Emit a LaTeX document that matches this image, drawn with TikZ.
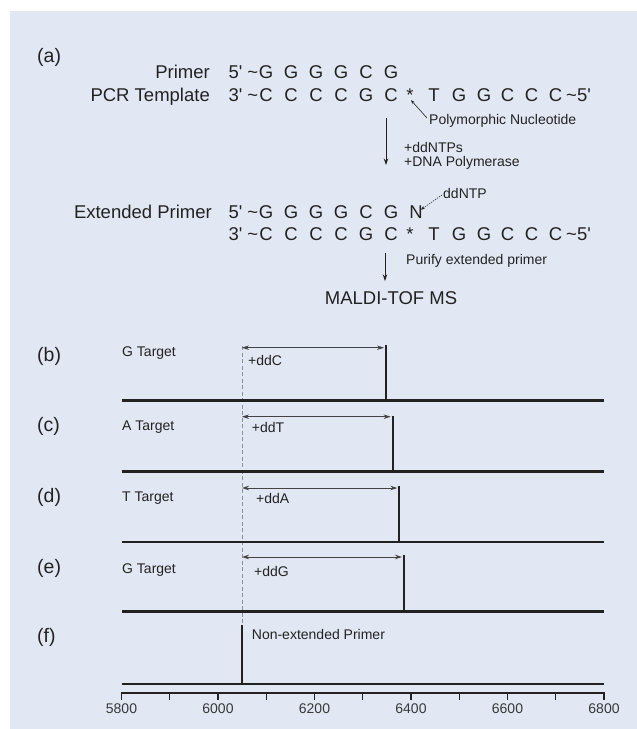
\documentclass[tikz,border=0pt]{standalone}
\usepackage{fontspec}
\setmainfont{Liberation Sans}[Ligatures=TeXOff]
\usetikzlibrary{arrows.meta}
\definecolor{panelbg}{HTML}{E1E8F4}
\definecolor{ink}{HTML}{222222}
\definecolor{dashgray}{HTML}{8C929C}
\tikzset{
  big/.style={font=\fontsize{18.5}{22}\selectfont, text=ink, inner sep=0pt},
  small/.style={font=\fontsize{14}{16}\selectfont, text=ink, inner sep=0pt},
  plabel/.style={font=\fontsize{19.5}{22}\selectfont, text=ink, inner sep=0pt},
  baseln/.style={line width=2.2pt, draw=ink},
  peakln/.style={line width=2pt, draw=ink},
  dimarrow/.style={line width=0.8pt, draw=ink!85, {Stealth[length=7pt,width=4.5pt]}-{Stealth[length=7pt,width=4.5pt]}},
  flowarrow/.style={line width=0.8pt, draw=ink, -{Stealth[length=6.5pt,width=4.5pt]}},
  thinarrow/.style={line width=0.6pt, draw=ink, -{Stealth[length=4pt,width=3pt]}},
  dotarrow/.style={line width=0.6pt, draw=ink, dash pattern=on 1.2pt off 1.2pt, -{Stealth[length=4pt,width=3pt]}},
  guide/.style={line width=0.9pt, draw=dashgray, dash pattern=on 4pt off 2.5pt},
  tick/.style={line width=1.2pt, draw=ink}
}
\begin{document}
\begin{tikzpicture}[x=1pt,y=-1pt]
\useasboundingbox (0,0) rectangle (637,729);
\fill[panelbg] (10,11) rectangle (637,729);

% ---------- (a) ----------
\node[plabel, anchor=west] (la) at (37,57) {(a)};

% row 1: Primer
\node[big, anchor=base east] (primer) at (210,78) {Primer};
\node[big, anchor=base east] (p1) at (258.5,78) {5' \textasciitilde};
\foreach \x/\c [count=\i] in {266/G,291/G,316/G,341/G,366/C,391/G}
  \node[big, anchor=base] (ra\i) at (\x,78) {\c};

% row 2: PCR template
\node[big, anchor=base east] (pcr) at (210,101) {PCR Template};
\node[big, anchor=base east] (p2) at (258.5,101) {3' \textasciitilde};
\foreach \x/\c [count=\i] in {266/C,291/C,316/C,341/C,366/G,391/C,410/*,434/T,459/G,484/G,507.5/C,531.5/C,555.5/C}
  \node[big, anchor=base] (rb\i) at (\x,101) {\c};
\node[big, anchor=base west] (s2) at (566,101) {\textasciitilde 5'};

\node[small, anchor=west] (poly) at (429,121) {Polymorphic Nucleotide};
\draw[thinarrow] ([shift={(-2,-3)}]poly.west) -- ([shift={(1,-1)}]rb7.south);

% first step arrow
\coordinate (f1s) at (386,118);
\coordinate (f1e) at (386,165);
\draw[flowarrow] (f1s) -- (f1e);
\node[small, anchor=west] (ddntps) at (404,147) {+ddNTPs};
\node[small, anchor=west] (dnapol) at (404,163) {+DNA Polymerase};

% row 3: extended primer
\node[big, anchor=base east] (ext) at (212,218.6) {Extended Primer};
\node[big, anchor=base east] (p3) at (258.5,218.6) {5' \textasciitilde};
\foreach \x/\c [count=\i] in {266/G,291/G,316/G,341/G,366/C,391/G,416/N}
  \node[big, anchor=base] (rc\i) at (\x,218.6) {\c};
\node[small, anchor=west] (ddntp) at (443,193) {ddNTP};
\draw[dotarrow] ([shift={(-1,2)}]ddntp.west) -- ([shift={(-2,4)}]rc7.north east);

% row 4: template
\node[big, anchor=base east] (p4) at (258.5,240.6) {3' \textasciitilde};
\foreach \x/\c [count=\i] in {266/C,291/C,316/C,341/C,366/G,391/C,410/*,434/T,459/G,484/G,507.5/C,531.5/C,555.5/C}
  \node[big, anchor=base] (rd\i) at (\x,240.6) {\c};
\node[big, anchor=base west] (s4) at (566,240.6) {\textasciitilde 5'};

% second step arrow
\coordinate (f2s) at (385,253);
\coordinate (f2e) at (385,281);
\draw[flowarrow] (f2s) -- (f2e);
\node[small, anchor=west] (purify) at (406,261) {Purify extended primer};
\node[big] (maldi) at (391,298) {MALDI-TOF MS};

% ---------- spectra ----------
\coordinate (gtop) at (242,346);
\coordinate (gbot) at (242,625);
\draw[guide] (gtop) -- (gbot);

\foreach \bl/\px/\pt/\ay/\tgt/\ty/\dd/\ddx/\ddy/\pl/\ply/\nm in {
  400.5/386/345/347.7/G Target/353/+ddC/248/360/(b)/356/b,
  471.5/392.7/416/416.7/A Target/427/+ddT/251.7/427/(c)/426/c,
  541.7/399.3/486/488/T Target/498/+ddA/256/498/(d)/497/d,
  611.5/404/555/557/G Target/570/+ddG/254/571/(e)/568/e}{
  \coordinate (bl0\nm) at (121.5,\bl);
  \coordinate (bl1\nm) at (604,\bl);
  \draw[baseln] (bl0\nm) -- (bl1\nm);
  \coordinate (pk0\nm) at (\px,\bl);
  \coordinate (pk1\nm) at (\px,\pt);
  \draw[peakln] (pk0\nm) -- (pk1\nm);
  \coordinate (da0\nm) at (242,\ay);
  \coordinate (da1\nm) at (\px-2,\ay);
  \draw[dimarrow] (da0\nm) -- (da1\nm);
  \node[small, anchor=west] (tg\nm) at (122,\ty) {\tgt};
  \node[small, anchor=west] (dd\nm) at (\ddx,\ddy) {\dd};
  \node[plabel, anchor=west] (l\nm) at (37,\ply) {\pl};
}

% (f)
\coordinate (bl0f) at (121.5,683.7);
\coordinate (bl1f) at (604,683.7);
\draw[baseln] (bl0f) -- (bl1f);
\coordinate (pk0f) at (242,683.7);
\coordinate (pk1f) at (242,625);
\draw[peakln] (pk0f) -- (pk1f);
\node[small, anchor=west] (nonext) at (251.7,634) {Non-extended Primer};
\node[plabel, anchor=west] (lf) at (37,637) {(f)};

% axis
\coordinate (ax0) at (120.9,692.7);
\coordinate (ax1) at (604.6,692.7);
\draw[baseln, line width=1.6pt] (ax0) -- (ax1);
\foreach \i in {0,...,10}{
  \coordinate (tk\i) at (121.5+48.25*\i,692.7);
  \draw[tick] (tk\i) -- ++(0,7.5);
}
\foreach \i/\v in {0/5800,2/6000,4/6200,6/6400,8/6600,10/6800}
  \node[small, text=ink!90] (tl\i) at (121.5+48.25*\i,708.5) {\v};
\end{tikzpicture}
\end{document}
